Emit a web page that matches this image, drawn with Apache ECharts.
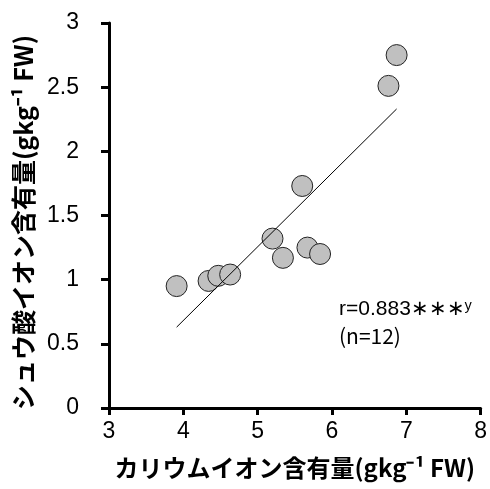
<!DOCTYPE html>
<html><head><meta charset="utf-8">
<script src="https://cdn.jsdelivr.net/npm/echarts@6/dist/echarts.min.js"></script>
<style>html,body{margin:0;padding:0;background:#fff}#c{width:490px;height:489px}</style>
</head><body><div id="c"></div>
<script>
const potassium = [3.91, 4.34, 4.47, 4.63, 5.20, 5.34, 5.60, 5.67, 5.84, 6.76, 6.87];
const oxalate   = [0.95, 0.99, 1.03, 1.04, 1.32, 1.17, 1.73, 1.25, 1.20, 2.51, 2.75];
const trendX = [3.91, 6.87];
const trendY = [0.63, 2.33];
const xTicks = [3, 4, 5, 6, 7, 8];
const yTicks = [0, 0.5, 1, 1.5, 2, 2.5, 3];
const xTitle = 'カリウムイオン含有量(gkg⁻¹ FW)';
const yTitle = 'シュウ酸イオン含有量(gkg⁻¹ FW)';

const chart = echarts.init(document.getElementById('c'));
const labelFont = {color:'#000', fontSize:23, fontFamily:'"Liberation Sans Narrow","Liberation Sans",Arial,sans-serif'};
const titleFont = {color:'#000', fontSize:24, fontWeight:'bold', fontFamily:'"Noto Sans CJK JP",sans-serif'};
chart.setOption({
  animation:false,
  grid:{left:109, right:8, top:23, bottom:81},
  xAxis:{type:'value', min:xTicks[0], max:xTicks[xTicks.length-1], interval:1,
    splitLine:{show:false},
    axisLine:{show:true, lineStyle:{color:'#000', width:3}},
    axisTick:{show:true, length:7, lineStyle:{color:'#000', width:3}},
    axisLabel:{...labelFont, margin:12},
    name:xTitle, nameLocation:'middle', nameGap:48, nameTextStyle:titleFont},
  yAxis:{type:'value', min:yTicks[0], max:yTicks[yTicks.length-1], interval:0.5,
    splitLine:{show:false},
    axisLine:{show:true, lineStyle:{color:'#000', width:3}},
    axisTick:{show:true, length:8, lineStyle:{color:'#000', width:3}},
    axisLabel:{...labelFont, margin:30},
    name:yTitle, nameLocation:'middle', nameGap:70, nameRotate:90,
    nameTextStyle:{...titleFont, fontSize:25, padding:[0,0,0,-14]}},
  graphic:[
    {type:'text', left:339, top:299, style:{text:'r=0.883∗∗∗ʸ', fill:'#000', font:'21px "Liberation Sans",Arial,sans-serif'}},
    {type:'text', left:339, top:326, style:{text:'(n=12)', fill:'#000', font:'21px "Noto Sans CJK JP",sans-serif'}}
  ],
  series:[
    {type:'line', data:trendX.map((x,i)=>[x,trendY[i]]), symbol:'none', silent:true,
     lineStyle:{color:'#000', width:1}},
    {type:'scatter', data:potassium.map((x,i)=>[x,oxalate[i]]), symbolSize:21,
     itemStyle:{color:'#c0c0c0', borderColor:'#222', borderWidth:1, opacity:1}}
  ]
});
</script></body></html>
